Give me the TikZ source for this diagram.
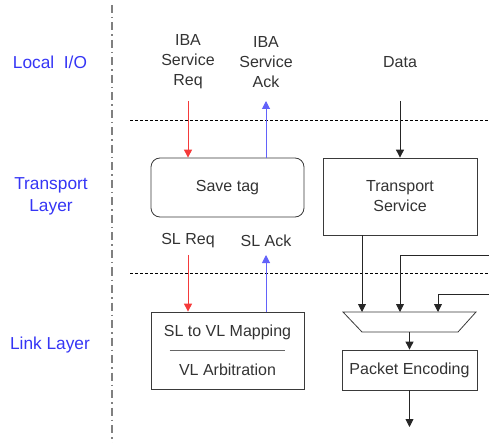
\documentclass[tikz,border=0pt]{standalone}
\usepackage{fontspec}
\setmainfont{Liberation Sans}
\usetikzlibrary{positioning,arrows.meta}
\definecolor{laybl}{HTML}{3535F5}
\definecolor{reqred}{HTML}{F53A3A}
\definecolor{ackbl}{HTML}{6262FA}
\definecolor{txtgr}{HTML}{333333}
\definecolor{boxgr}{HTML}{3A3A3A}
\tikzset{
  laylab/.style={text=laybl, align=center, inner sep=0pt,
    font=\fontsize{17.3}{22}\selectfont},
  sigt/.style={text=txtgr, align=center, inner sep=0pt},
  procb/.style={draw=boxgr, line width=0.8pt, text=txtgr, align=center, inner sep=0pt},
  rprocb/.style={procb, rounded corners=9pt},
  muxb/.style={draw=boxgr, line width=0.8pt, line join=miter},
  reqarr/.style={-{Triangle[length=8pt, width=8pt]}, line width=1pt, draw=reqred},
  ackarr/.style={-{Triangle[length=8pt, width=8pt]}, line width=1pt, draw=ackbl},
  dflow/.style={-{Triangle[length=8pt, width=8pt]}, line width=0.9pt, draw=black!85},
  layersep/.style={draw=black, line width=0.9pt, dash pattern=on 3pt off 2pt},
  colsep/.style={draw=black!50, line width=1.4pt, dash pattern=on 8pt off 4pt on 1.5pt off 4pt},
  sepline/.style={draw=black!60, line width=1pt},
}

\begin{document}
\begin{tikzpicture}[x=1pt, y=-1pt, font=\fontsize{16}{20}\selectfont]
    \useasboundingbox (0,0) rectangle (489,443);
    % layer names and separators
    \draw[colsep] (112,5) -- (112,443);
    \node[laylab] (lio) at (50,62) {Local\ \ I/O};
    \node[laylab] (tlay) at (51,196) {Transport\\Layer};
    \node[laylab] (llay) at (50,345) {Link Layer};
    \coordinate (sepAl) at (130,120);
    \coordinate (sepAr) at (489,120);
    \coordinate (sepBl) at (130,273);
    \coordinate (sepBr) at (489,273);
    \draw[layersep] (sepAl) -- (sepAr);
    \draw[layersep] (sepBl) -- (sepBr);
    % signals
    \node[sigt] (ibareq) at (188,62) {IBA\\Service\\Req};
    \node[sigt] (ibaack) at (266,62) {IBA\\Service\\Ack};
    \node[sigt] (data) at (400,62) {Data};
    \node[sigt] (slreq) at (188,241) {SL Req};
    \node[sigt] (slack) at (266,241) {SL Ack};
    \coordinate (rowA) at (0,101);
    \coordinate (rowB) at (0,255);
    % blocks
    \node[rprocb, minimum width=153pt, minimum height=59pt] (savetag) at (227.5,187.5) {Save tag};
    \node[procb, minimum width=154pt, minimum height=77pt] (tserv) at (400,196.5) {Transport\\Service};
    \node[procb, minimum width=153pt, minimum height=77pt] (slvl) at (227.5,350.5)
      {SL to VL Mapping\\[19pt]VL Arbitration};
    \draw[sepline] ([xshift=19pt]slvl.west) -- ([xshift=-19pt]slvl.east);
    % mux
    \draw[muxb] (343,312) -- (476,312) -- (458,332) -- (362,332) -- cycle;
    \coordinate (muxout) at (409.5,332);
    \node[procb, minimum width=135pt, minimum height=40pt] (penc) at (409.5,370) {Packet Encoding};
    \coordinate (inA) at (362,312);
    \coordinate (inB) at (400,312);
    \coordinate (inC) at (438,312);
    \coordinate (extB) at (489,255);
    \coordinate (extC) at (489,294);
    \coordinate (pout) at (409.5,427);
    % connectors
    \draw[reqarr] (ibareq |- rowA) -- (ibareq |- savetag.north);
    \draw[ackarr] (ibaack |- savetag.north) -- (ibaack |- rowA);
    \draw[dflow] (data |- rowA) -- (data |- tserv.north);
    \draw[reqarr] (slreq |- rowB) -- (slreq |- slvl.north);
    \draw[ackarr] (slack |- slvl.north) -- (slack |- rowB);
    \draw[dflow] (tserv.south -| inA) -- (inA);
    \draw[dflow] (extB) -| (inB);
    \draw[dflow] (extC) -| (inC);
    \draw[dflow] (muxout) -- (penc.north);
    \draw[dflow] (penc.south) -- (pout);
  \end{tikzpicture}
\end{document}
